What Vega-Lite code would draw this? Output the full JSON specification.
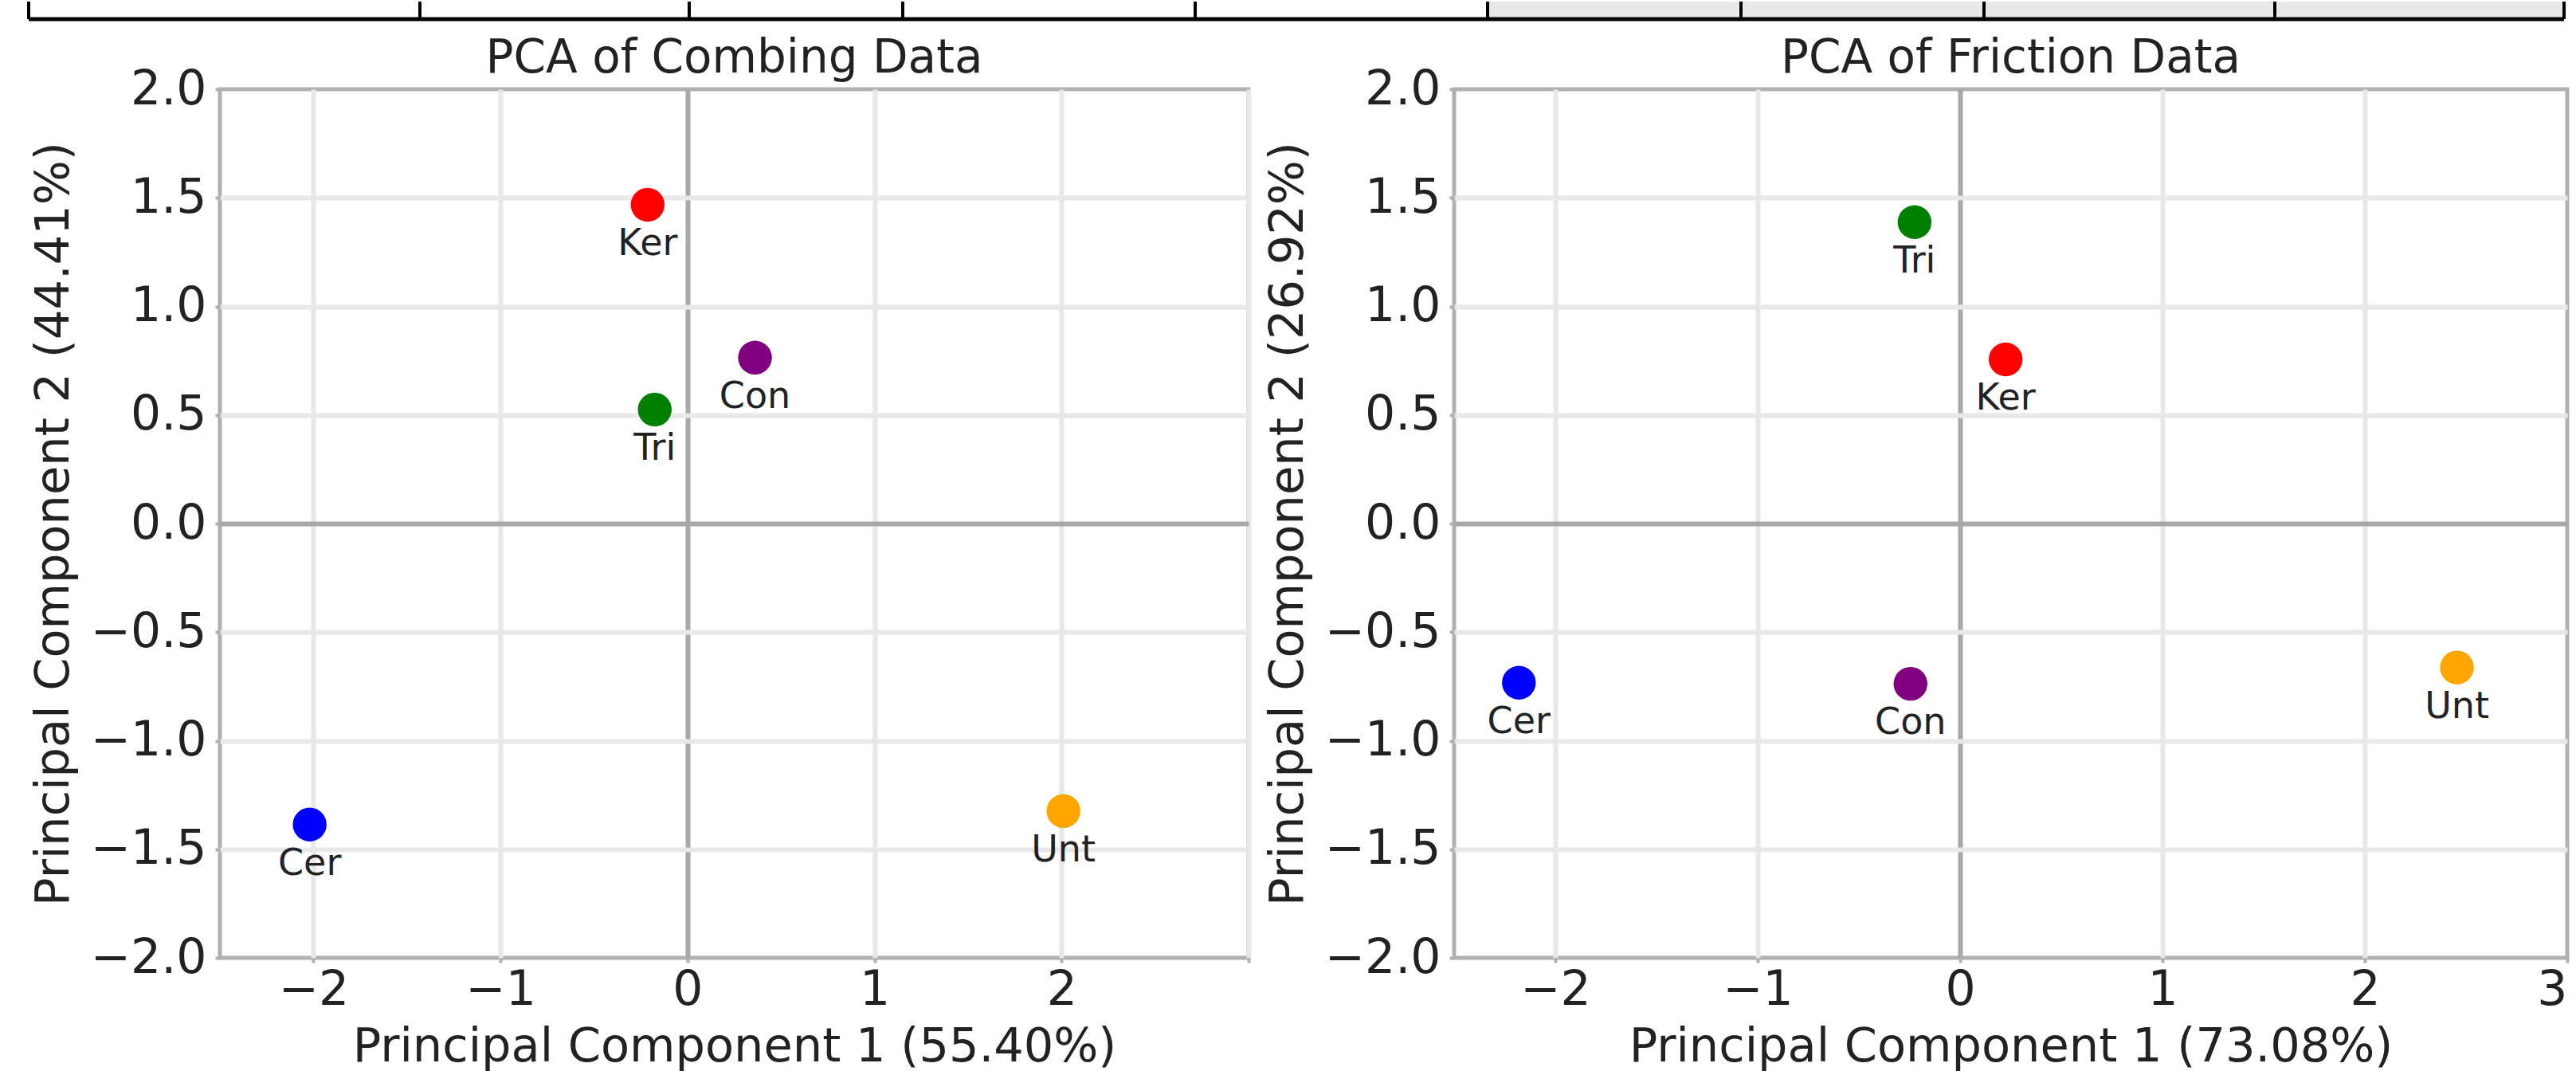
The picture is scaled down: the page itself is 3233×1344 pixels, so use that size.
{
  "$schema": "https://vega.github.io/schema/vega-lite/v6.json",
  "background": "white",
  "padding": {"left": 33, "top": 0, "right": 0, "bottom": 0},
  "config": {
    "font": "DejaVu Sans",
    "view": {"stroke": "#b0b0b0", "strokeWidth": 5},
    "title": {"font": "DejaVu Sans", "fontSize": 58, "fontWeight": "normal", "color": "#222222", "baseline": "alphabetic", "offset": -21, "anchor": "middle"},
    "axis": {
      "labelFont": "DejaVu Sans", "titleFont": "DejaVu Sans",
      "labelFontSize": 60, "titleFontSize": 59, "titleFontWeight": "normal",
      "labelColor": "#222222", "titleColor": "#222222",
      "domain": false, "tickColor": "#b0b0b0", "tickSize": 6, "tickWidth": 4,
      "gridWidth": 6
    },
    "axisX": {"labelPadding": 5, "titlePadding": 12},
    "axisY": {"labelPadding": 11, "titlePadding": 28, "titleBaseline": "alphabetic"}
  },
  "datasets": {
    "cells": [
      {"cell": 1, "start": 0, "end": 491, "shaded": false},
      {"cell": 2, "start": 491, "end": 829, "shaded": false},
      {"cell": 3, "start": 829, "end": 1097, "shaded": false},
      {"cell": 4, "start": 1097, "end": 1464, "shaded": false},
      {"cell": 5, "start": 1464, "end": 1831, "shaded": false},
      {"cell": 6, "start": 1831, "end": 2149, "shaded": true},
      {"cell": 7, "start": 2149, "end": 2454, "shaded": true},
      {"cell": 8, "start": 2454, "end": 2819, "shaded": true},
      {"cell": 9, "start": 2819, "end": 3182, "shaded": true}
    ],
    "edges": [
      {"edge": 0}, {"edge": 491}, {"edge": 829}, {"edge": 1097}, {"edge": 1464},
      {"edge": 1831}, {"edge": 2149}, {"edge": 2454}, {"edge": 2819}, {"edge": 3182}
    ],
    "bottomline": [
      {"from": 0, "to": 3182, "level": 0}
    ],
    "combing": [
      {"sample": "Cer", "pc1": -2.02, "pc2": -1.386},
      {"sample": "Con", "pc1": 0.361, "pc2": 0.764},
      {"sample": "Ker", "pc1": -0.213, "pc2": 1.468},
      {"sample": "Tri", "pc1": -0.175, "pc2": 0.525},
      {"sample": "Unt", "pc1": 2.01, "pc2": -1.324}
    ],
    "friction": [
      {"sample": "Cer", "pc1": -2.18, "pc2": -0.733},
      {"sample": "Con", "pc1": -0.245, "pc2": -0.738},
      {"sample": "Ker", "pc1": 0.225, "pc2": 0.756},
      {"sample": "Tri", "pc1": -0.225, "pc2": 1.388},
      {"sample": "Unt", "pc1": 2.455, "pc2": -0.663}
    ]
  },
  "spacing": 15,
  "vconcat": [
    {
      "width": 2942,
      "height": 22,
      "view": {"stroke": null},
      "layer": [
        {
          "data": {"name": "cells"},
          "transform": [{"filter": "datum.shaded"}],
          "mark": {"type": "rect", "color": "#e8e8e8"},
          "encoding": {
            "x": {"field": "start", "type": "quantitative", "scale": {"domain": [240, 3182], "nice": false, "zero": false}, "axis": null},
            "x2": {"field": "end"}
          }
        },
        {
          "data": {"name": "edges"},
          "mark": {"type": "rule", "color": "black", "strokeWidth": 4},
          "encoding": {
            "x": {"field": "edge", "type": "quantitative"}
          }
        },
        {
          "data": {"name": "bottomline"},
          "mark": {"type": "rule", "color": "black", "strokeWidth": 5},
          "encoding": {
            "x": {"field": "from", "type": "quantitative"},
            "x2": {"field": "to"},
            "y": {"field": "level", "type": "quantitative", "scale": {"domain": [0, 1], "nice": false}, "axis": null}
          }
        }
      ]
    },
    {
      "bounds": "flush",
      "spacing": 258,
      "hconcat": [
        {
          "width": 1291,
          "height": 1090,
          "title": "PCA of Combing Data",
          "data": {"name": "combing"},
          "layer": [
            {
              "mark": {"type": "circle", "size": 1800, "opacity": 1},
              "encoding": {
                "x": {"field": "pc1", "type": "quantitative", "scale": {"domain": [-2.5, 3], "nice": false, "zero": false},
                      "axis": {"values": [-2, -1, 0, 1, 2, 3], "format": "d", "title": "Principal Component 1 (55.40%)",
                               "labelExpr": "datum.value === 3 ? '' : datum.label",
                               "gridColor": {"condition": {"test": "datum.value === 0", "value": "#a8a8a8"}, "value": "#e8e8e8"}}},
                "y": {"field": "pc2", "type": "quantitative", "scale": {"domain": [-2, 2], "nice": false, "zero": false},
                      "axis": {"values": [-2, -1.5, -1, -0.5, 0, 0.5, 1, 1.5, 2], "format": ".1f", "title": "Principal Component 2 (44.41%)",
                               "gridColor": {"condition": {"test": "datum.value === 0", "value": "#a8a8a8"}, "value": "#e8e8e8"},
                               "gridOpacity": {"condition": {"test": "abs(datum.value) === 2", "value": 0}, "value": 1}}},
                "color": {"field": "sample", "type": "nominal", "scale": {"domain": ["Cer", "Con", "Ker", "Tri", "Unt"], "range": ["#0000ff", "#800080", "#ff0000", "#008000", "#ffa500"]}, "legend": null}
              }
            },
            {
              "mark": {"type": "text", "dy": 63, "baseline": "alphabetic", "fontSize": 46, "color": "#222222", "font": "DejaVu Sans"},
              "encoding": {
                "x": {"field": "pc1", "type": "quantitative"},
                "y": {"field": "pc2", "type": "quantitative"},
                "text": {"field": "sample"}
              }
            }
          ]
        },
        {
          "width": 1397,
          "height": 1090,
          "title": "PCA of Friction Data",
          "data": {"name": "friction"},
          "layer": [
            {
              "mark": {"type": "circle", "size": 1800, "opacity": 1},
              "encoding": {
                "x": {"field": "pc1", "type": "quantitative", "scale": {"domain": [-2.5, 3], "nice": false, "zero": false},
                      "axis": {"values": [-2, -1, 0, 1, 2, 3], "format": "d", "title": "Principal Component 1 (73.08%)",
                               "gridColor": {"condition": {"test": "datum.value === 0", "value": "#a8a8a8"}, "value": "#e8e8e8"},
                               "gridOpacity": {"condition": {"test": "datum.value === 3", "value": 0}, "value": 1}}},
                "y": {"field": "pc2", "type": "quantitative", "scale": {"domain": [-2, 2], "nice": false, "zero": false},
                      "axis": {"values": [-2, -1.5, -1, -0.5, 0, 0.5, 1, 1.5, 2], "format": ".1f", "title": "Principal Component 2 (26.92%)",
                               "gridColor": {"condition": {"test": "datum.value === 0", "value": "#a8a8a8"}, "value": "#e8e8e8"},
                               "gridOpacity": {"condition": {"test": "abs(datum.value) === 2", "value": 0}, "value": 1}}},
                "color": {"field": "sample", "type": "nominal", "scale": {"domain": ["Cer", "Con", "Ker", "Tri", "Unt"], "range": ["#0000ff", "#800080", "#ff0000", "#008000", "#ffa500"]}, "legend": null}
              }
            },
            {
              "mark": {"type": "text", "dy": 63, "baseline": "alphabetic", "fontSize": 46, "color": "#222222", "font": "DejaVu Sans"},
              "encoding": {
                "x": {"field": "pc1", "type": "quantitative"},
                "y": {"field": "pc2", "type": "quantitative"},
                "text": {"field": "sample"}
              }
            }
          ]
        }
      ]
    }
  ]
}
